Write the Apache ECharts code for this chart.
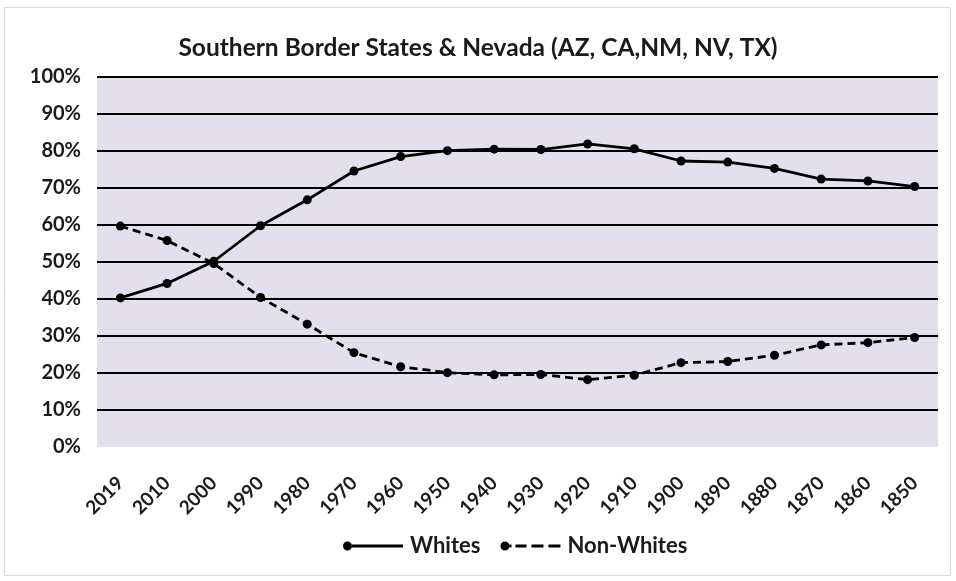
<!DOCTYPE html>
<html>
<head>
<meta charset="utf-8">
<script src="https://cdn.jsdelivr.net/npm/echarts@6/dist/echarts.min.js"></script>
<style>
html,body{margin:0;padding:0;background:#fff;}
#chart{width:956px;height:581px;}
</style>
</head>
<body>
<div id="chart"></div>
<script>
const categories = ['2019','2010','2000','1990','1980','1970','1960','1950','1940','1930','1920','1910','1900','1890','1880','1870','1860','1850'];
const whites =    [40.3, 44.2, 50.2, 59.8, 66.8, 74.6, 78.5, 80.1, 80.5, 80.4, 81.9, 80.6, 77.3, 77.0, 75.3, 72.4, 71.9, 70.4];
const nonWhites = [59.7, 55.8, 49.6, 40.4, 33.2, 25.5, 21.7, 20.1, 19.5, 19.6, 18.2, 19.4, 22.8, 23.1, 24.8, 27.6, 28.2, 29.6];
const yTicks = [0,10,20,30,40,50,60,70,80,90,100];

const font = "Lato,'Open Sans',sans-serif";
const iconSolid = 'path://M0,5a4.5,4.5 0 1,0 9,0a4.5,4.5 0 1,0 -9,0zM9,3.6h51v2.8h-51z';
const iconDash = 'path://M0,5a4.5,4.5 0 1,0 9,0a4.5,4.5 0 1,0 -9,0zM9,3.6h2v2.8h-2zM15,3.6h11v2.8h-11zM31,3.6h12v2.8h-12zM48,3.6h12v2.8h-12z';
const chart = echarts.init(document.getElementById('chart'), null, {renderer:'canvas'});
chart.setOption({
  animation:false,
  backgroundColor:'#fff',
  graphic:[{type:'rect',shape:{x:4.5,y:7.5,width:946,height:568},style:{fill:'none',stroke:'#d9d9d9',lineWidth:1}}],
  title:{text:'Southern Border States & Nevada (AZ, CA,NM, NV, TX)',left:'center',top:31,
    textStyle:{fontFamily:font,fontSize:24.5,fontWeight:'bold',color:'#1a1a1a'}},
  grid:{left:97,right:18,top:77,bottom:134,show:true,backgroundColor:'#e4dfec',borderWidth:0},
  legend:{bottom:19,left:338,itemWidth:60,itemHeight:10,itemGap:20,
    itemStyle:{borderWidth:0},lineStyle:{width:0},
    textStyle:{fontFamily:font,fontSize:22,fontWeight:'bold',color:'#1a1a1a',padding:[0,0,0,2]},
    data:[{name:'Whites',icon:iconSolid},{name:'Non-Whites',icon:iconDash}]},
  xAxis:{type:'category',data:categories,boundaryGap:true,
    axisLine:{show:false},axisTick:{show:false},
    axisLabel:{rotate:45,interval:0,margin:33,fontFamily:font,fontSize:19,fontWeight:'bold',color:'#1a1a1a'}},
  yAxis:{type:'value',min:0,max:100,interval:10,
    axisLine:{show:false},axisTick:{show:false},
    axisLabel:{formatter:v=>yTicks.includes(v)?v+'%':'',margin:16,fontFamily:font,fontSize:20,fontWeight:'bold',color:'#1a1a1a'},
    splitLine:{show:true,showMinLine:false,lineStyle:{color:'#000',width:2}}},
  series:[
    {name:'Whites',type:'line',data:whites,symbol:'circle',symbolSize:9,
      itemStyle:{color:'#000'},lineStyle:{color:'#000',width:2.8,type:'solid'}},
    {name:'Non-Whites',type:'line',data:nonWhites,symbol:'circle',symbolSize:9,
      itemStyle:{color:'#000'},lineStyle:{color:'#000',width:2.8,type:[8,5]}}
  ]
});
</script>
</body>
</html>
